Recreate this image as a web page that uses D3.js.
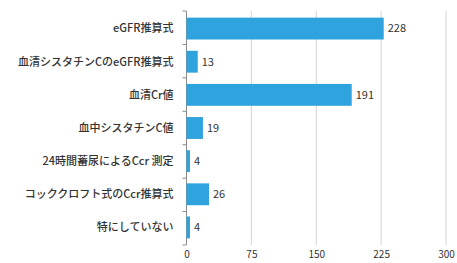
<!DOCTYPE html>
<html>
<head>
<meta charset="utf-8">
<script src="https://cdn.jsdelivr.net/npm/d3@7"></script>
<style>
body { margin: 0; background: #fff; }
svg text { font-family: "Noto Sans CJK JP", "Noto Sans", sans-serif; fill: #333; }
</style>
</head>
<body>
<script>
// data
var categories = ["eGFR推算式", "血清シスタチンCのeGFR推算式", "血清Cr値", "血中シスタチンC値",
                  "24時間蓄尿によるCcr 測定", "コッククロフト式のCcr推算式", "特にしていない"]
var counts = [228, 13, 191, 19, 4, 26, 4]
var xTicks = [0, 75, 150, 225, 300]

var screen = {width: 457, height: 263}
var margins = {top: 11, bottom: 18, left: 186.5, right: 11}
var width = screen.width - margins.left - margins.right
var height = screen.height - margins.top - margins.bottom

var xScale = d3.scaleLinear()
    .domain([0, 300])
    .range([0, width])

var yScale = d3.scaleBand()
    .domain(categories)
    .range([0, height])
    .paddingInner(0.34)
    .paddingOuter(0.2)

var svg = d3.select("body")
    .append("svg")
    .attr("width", screen.width)
    .attr("height", screen.height)

var plot = svg.append("g")
    .attr("transform", "translate(" + margins.left + "," + margins.top + ")")

// vertical gridlines
plot.append("g")
    .selectAll("line")
    .data(xTicks.slice(1))
    .enter()
    .append("line")
    .attr("x1", function(d) { return xScale(d) })
    .attr("x2", function(d) { return xScale(d) })
    .attr("y1", 0)
    .attr("y2", height)
    .attr("stroke", "#d4d4d4")
    .attr("stroke-width", 1)

// bottom tick labels
var xAxis = d3.axisBottom(xScale).tickValues(xTicks).tickSize(0).tickPadding(6)
var gx = plot.append("g")
    .attr("transform", "translate(0," + height + ")")
    .call(xAxis)
gx.select(".domain").remove()
gx.selectAll("text").style("font-size", "10px").attr("fill", "#333")

// left axis, ticks at band edges
plot.append("line")
    .attr("x1", 0).attr("x2", 0)
    .attr("y1", 0).attr("y2", height)
    .attr("stroke", "#8c8c8c")

var edges = categories.map(function(d, i) { return i * height / categories.length })
edges.push(height)
plot.append("g")
    .selectAll("line")
    .data(edges)
    .enter()
    .append("line")
    .attr("x1", -4).attr("x2", 0)
    .attr("y1", function(d) { return d })
    .attr("y2", function(d) { return d })
    .attr("stroke", "#8c8c8c")

// category labels
plot.append("g")
    .selectAll("text")
    .data(categories)
    .enter()
    .append("text")
    .attr("x", -13)
    .attr("y", function(d) { return yScale(d) + yScale.bandwidth() / 2 })
    .attr("dy", "0.35em")
    .attr("text-anchor", "end")
    .style("font-size", "11px")
    .style("font-weight", "500")
    .text(function(d) { return d })

// bars
plot.append("g")
    .selectAll("rect")
    .data(counts)
    .enter()
    .append("rect")
    .attr("x", 0)
    .attr("y", function(d, i) { return yScale(categories[i]) })
    .attr("width", function(d) { return xScale(d) })
    .attr("height", yScale.bandwidth())
    .attr("fill", "#2ea3dd")

// value labels
plot.append("g")
    .selectAll("text")
    .data(counts)
    .enter()
    .append("text")
    .attr("x", function(d) { return xScale(d) + 4 })
    .attr("y", function(d, i) { return yScale(categories[i]) + yScale.bandwidth() / 2 })
    .attr("dy", "0.35em")
    .style("font-size", "11px")
    .text(function(d) { return d })
</script>
</body>
</html>
